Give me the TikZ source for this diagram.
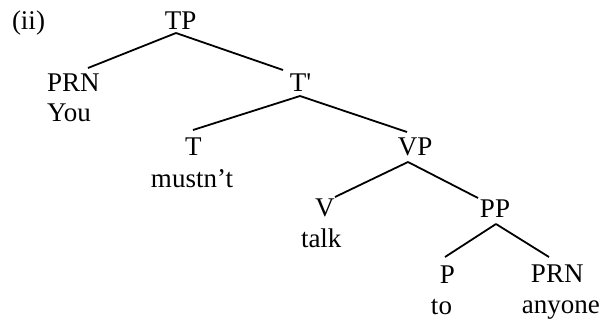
\documentclass[tikz,border=0pt]{standalone}
\usepackage{fontspec}
\setmainfont{Liberation Serif}
\begin{document}
\begin{tikzpicture}[x=0.5pt,y=-0.5pt,
  lbl/.style={anchor=base west,inner sep=0pt,outer sep=0pt,font=\fontsize{13.5}{16}\selectfont},
  branch/.style={line width=0.9pt}]
\useasboundingbox (0,0) rectangle (602,322);
% labels
\node[lbl] (ex) at (12,29) {(ii)};
\node[lbl] (TP) at (165,29) {TP};
\node[lbl] (PRN1) at (47,91) {PRN};
\node[lbl] (You) at (47,121) {You};
\node[lbl] (Tbar) at (290,91) {T\textquotesingle};
\node[lbl] (T) at (185,155) {T};
\node[lbl] (mustnt) at (151,187) {mustn’t};
\node[lbl] (VP) at (398,155) {VP};
\node[lbl] (V) at (315,216) {V};
\node[lbl] (talk) at (301,247) {talk};
\node[lbl] (PP) at (480,217) {PP};
\node[lbl] (P) at (440,283) {P};
\node[lbl] (to) at (431,314) {to};
\node[lbl] (PRN2) at (531,282) {PRN};
\node[lbl] (anyone) at (522,313) {anyone};
% branch end points
\coordinate (TPb) at (176,33);
\coordinate (PRN1t) at (88,68);
\coordinate (Tbart) at (283,70);
\coordinate (Tbarb) at (300,96);
\coordinate (Tt) at (193,130);
\coordinate (VPt) at (407,132);
\coordinate (VPb) at (408,162);
\coordinate (Vt) at (335,197);
\coordinate (PPt) at (478,198);
\coordinate (PPb) at (496,224);
\coordinate (Pt) at (445,257);
\coordinate (PRN2t) at (549,257);
% branches
\draw[branch] (TPb) -- (PRN1t);
\draw[branch] (TPb) -- (Tbart);
\draw[branch] (Tbarb) -- (Tt);
\draw[branch] (Tbarb) -- (VPt);
\draw[branch] (VPb) -- (Vt);
\draw[branch] (VPb) -- (PPt);
\draw[branch] (PPb) -- (Pt);
\draw[branch] (PPb) -- (PRN2t);
\end{tikzpicture}
\end{document}
